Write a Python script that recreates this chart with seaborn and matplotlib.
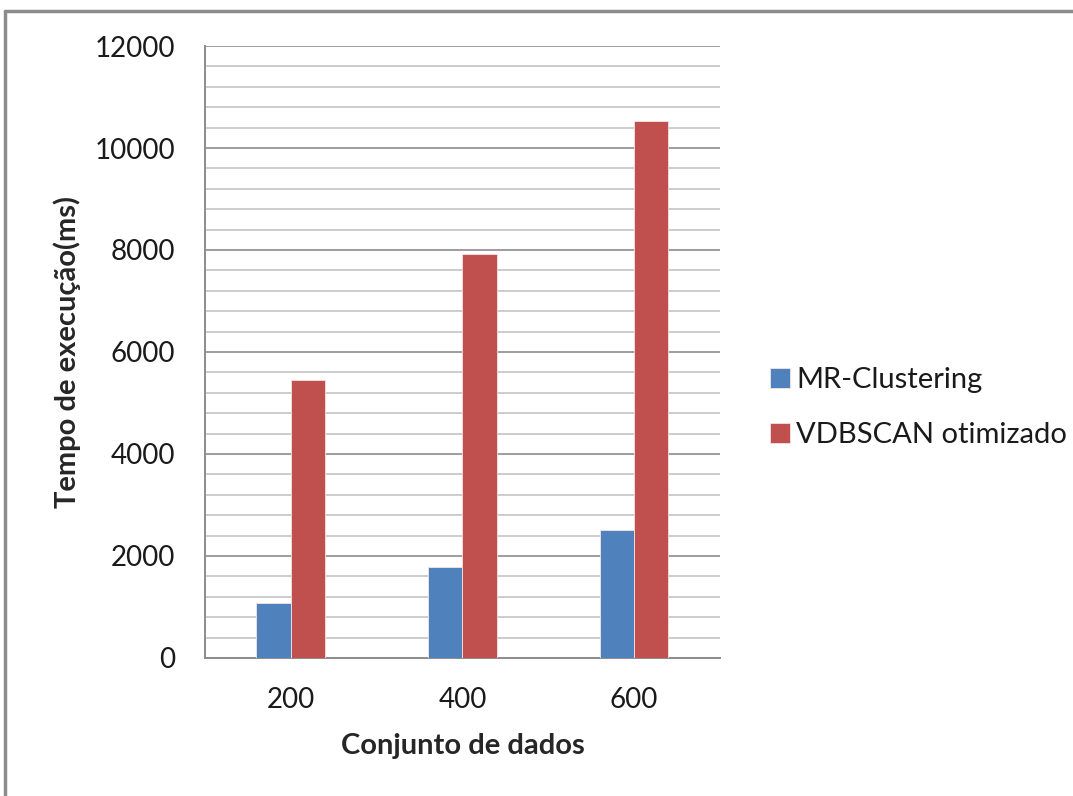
import matplotlib
matplotlib.use("Agg")
import matplotlib.pyplot as plt
from matplotlib.lines import Line2D
from matplotlib.ticker import MultipleLocator
import seaborn as sns
import pandas as pd

# Execution time (ms) per dataset size
conjuntos = ["200", "400", "600"]
mr_clustering = [1070, 1780, 2500]
vdbscan_otimizado = [5460, 7920, 10520]
series_names = ["MR-Clustering", "VDBSCAN otimizado"]
palette = ["#4F81BD", "#C0504D"]

df = pd.DataFrame({
    "Conjunto de dados": conjuntos * 2,
    "Tempo": mr_clustering + vdbscan_otimizado,
    "Série": [series_names[0]] * 3 + [series_names[1]] * 3,
})

sns.set_theme(style="white")
plt.rcParams["font.family"] = ["Lato", "DejaVu Sans"]
plt.rcParams["text.color"] = "#1A1A1A"

fig = plt.figure(figsize=(10.73, 7.96), dpi=100)
ax = fig.add_axes([0.191, 0.1734, 0.48, 0.7688])

sns.barplot(data=df, x="Conjunto de dados", y="Tempo", hue="Série",
            palette=palette, saturation=1, width=0.4, ax=ax,
            edgecolor="#F4E4E4", linewidth=0.6, zorder=3)

ax.set_ylim(0, 12000)
ax.set_xlim(-0.5, 2.5)
ax.yaxis.set_major_locator(MultipleLocator(2000))
ax.yaxis.set_minor_locator(MultipleLocator(400))
ax.grid(which="major", axis="y", color="#8C8C8C", linewidth=1.2, zorder=0)
ax.grid(which="minor", axis="y", color="#C4C4C4", linewidth=1.2, zorder=0)
ax.set_axisbelow(True)

for side in ["top", "right"]:
    ax.spines[side].set_visible(False)
for side in ["left", "bottom"]:
    ax.spines[side].set_color("#8C8C8C")
    ax.spines[side].set_linewidth(1.4)

ax.tick_params(axis="y", which="major", direction="out", length=7.2,
               color="#8C8C8C", width=1.2, labelsize=20, pad=14,
               labelcolor="#1A1A1A")
ax.tick_params(axis="y", which="minor", length=0)
ax.tick_params(axis="x", length=0, labelsize=20, pad=21, labelcolor="#1A1A1A")
ax.set_xticks(range(len(conjuntos)))
ax.set_xticklabels(conjuntos)

ax.set_xlabel("Conjunto de dados", fontsize=21, fontweight="bold", labelpad=14)
ax.set_ylabel("Tempo de execução(ms)", fontsize=21, fontweight="bold", labelpad=10)

ax.legend(loc="center left", bbox_to_anchor=(0.7176, 0.488),
          bbox_transform=fig.transFigure, frameon=False, borderpad=0,
          borderaxespad=0, fontsize=21, handlelength=0.7, handleheight=0.7,
          handletextpad=0.2, labelspacing=1.0)

# Outer frame of the chart
fig.add_artist(Line2D([0.0042, 0.0042], [0.0, 0.986], transform=fig.transFigure,
                      color="#8C8C8C", linewidth=2.5))
fig.add_artist(Line2D([0.0042, 1.0], [0.986, 0.986], transform=fig.transFigure,
                      color="#8C8C8C", linewidth=2.5))

fig.savefig("out.png", dpi=100, facecolor="white")
